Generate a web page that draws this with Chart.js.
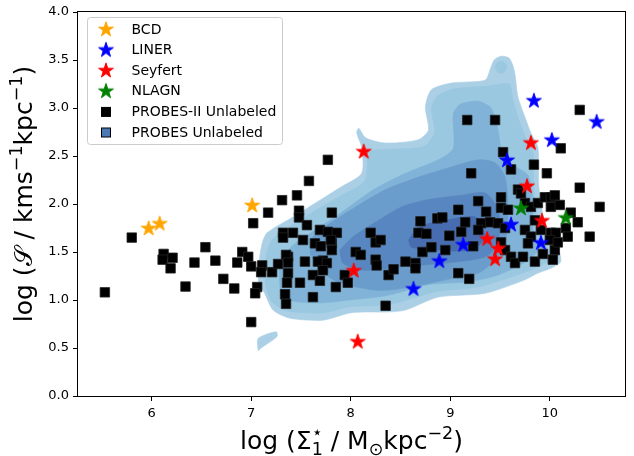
<!DOCTYPE html>
<html><head><meta charset="utf-8">
<script src="https://cdn.jsdelivr.net/npm/chart.js@4.4.1/dist/chart.umd.min.js"></script>
<style>html,body{margin:0;padding:0;background:#fff;}canvas{display:block;}</style>
</head><body>
<canvas id="c" width="634" height="456"></canvas>
<script>
// ---------- tick values ----------
const xTickValues = [6, 7, 8, 9, 10];
const yTickValues = [0, 0.5, 1, 1.5, 2, 2.5, 3, 3.5, 4];

// ---------- labelled galaxies (stars) ----------
const bcdX = [5.97, 6.08, 7.01];
const bcdY = [1.75, 1.80, 1.99];
const linerX = [9.84, 10.47, 10.02, 9.57, 9.61, 9.91, 9.13, 8.89, 8.63];
const linerY = [3.08, 2.86, 2.67, 2.46, 1.79, 1.60, 1.58, 1.41, 1.12];
const seyfertX = [8.13, 9.81, 9.77, 9.92, 9.37, 9.48, 9.45, 8.03, 8.07];
const seyfertY = [2.55, 2.64, 2.19, 1.83, 1.64, 1.54, 1.43, 1.31, 0.57];
const nlagnX = [9.71, 10.16];
const nlagnY = [1.96, 1.86];

// ---------- PROBES-II unlabeled (squares) ----------
const probes2X = [5.53,5.80,6.12,6.11,6.21,6.19,6.34,6.43,6.54,6.64,6.72,6.83,6.86,6.91,6.97,7.00,7.02,7.00,7.11,7.10,
7.17,7.21,7.27,7.31,7.32,7.32,7.37,7.37,7.36,7.34,7.35,7.06,7.04,7.42,7.46,7.48,7.48,7.49,7.52,7.54,
7.56,7.58,7.62,7.62,7.69,7.64,7.70,7.72,7.72,7.69,7.77,7.77,7.81,7.81,7.85,7.86,7.81,7.94,7.97,8.05,
8.10,8.20,8.25,8.30,8.25,8.26,8.35,8.38,8.43,8.55,8.65,8.65,8.70,8.68,8.76,8.72,8.81,8.87,8.92,8.99,
8.95,9.08,9.21,9.28,9.36,9.15,9.11,9.08,9.19,9.31,9.28,9.40,9.23,9.51,9.51,9.58,9.53,9.61,9.84,9.97,
9.48,9.55,9.51,9.55,9.61,9.65,9.73,9.85,9.93,9.68,9.71,9.75,9.81,9.88,9.95,10.01,9.85,9.91,9.75,9.81,
10.01,10.01,10.05,9.17,9.45,10.11,10.30,10.30,10.05,10.10,10.50,10.21,10.28,10.16,10.18,10.06,10.40,10.03,9.78,10.00,
10.08,7.35,7.37,7.67,7.76,7.72,7.80];
const probes2Y = [1.08,1.65,1.48,1.42,1.44,1.33,1.14,1.39,1.55,1.41,1.22,1.12,1.39,1.50,1.45,1.35,1.80,0.77,1.36,1.29,
1.91,1.29,1.375,2.04,1.70,1.65,1.45,1.28,1.18,1.06,0.96,1.135,1.07,1.70,2.09,1.93,1.86,1.18,1.625,1.40,
1.78,2.24,1.03,1.26,1.73,1.59,1.56,1.41,1.33,1.20,2.46,1.71,1.59,1.91,1.135,1.70,1.52,1.26,1.18,1.50,
1.47,1.70,1.60,1.625,1.42,1.36,0.94,1.26,1.32,1.40,1.385,1.33,1.82,1.70,1.69,1.50,1.55,1.85,1.86,1.67,
1.52,1.94,2.32,2.03,1.92,1.81,1.71,1.28,1.22,1.80,1.73,1.81,1.56,2.07,1.96,1.94,2.54,2.36,2.41,2.32,
1.80,1.75,1.60,1.52,1.45,1.385,1.45,1.40,1.48,2.15,2.11,2.01,1.97,2.01,2.07,2.07,1.83,1.73,1.73,1.66,
1.97,1.70,1.52,2.875,2.875,2.58,2.98,2.17,2.09,1.99,1.97,1.91,1.81,1.75,1.66,1.70,1.66,1.42,1.59,1.625,
1.60,1.47,1.39,1.40,1.385,1.31,1.625];

// ---------- PROBES unlabeled density (KDE contour levels, outer -> inner) ----------
const kdeL1X = [7.07,7.08,7.11,7.16,7.42,7.69,7.89,8.11,8.11,8.06,8.08,8.15,8.35,8.68,8.78,8.75,8.81,9.01,9.35,9.40,9.44,9.51,9.59,9.63,9.65,9.68,9.75,9.81,9.88,9.89,9.93,9.98,10.08,10.11,10.01,9.88,9.75,9.35,8.88,8.55,8.38,8.15,7.99,7.72,7.39,7.22,7.12];
const kdeL1Y = [1.135,1.40,1.59,1.70,1.865,2.04,2.17,2.32,2.59,2.74,2.79,2.69,2.635,2.67,2.77,3.01,3.19,3.26,3.29,3.40,3.50,3.54,3.52,3.44,3.35,3.115,2.905,2.74,2.59,2.18,1.885,1.655,1.54,1.40,1.33,1.28,1.21,1.07,1.03,0.895,0.875,0.875,0.865,0.79,0.81,0.895,1.10];
const kdeSliverX = [7.07,7.07,7.25,7.26,7.10];
const kdeSliverY = [0.47,0.60,0.67,0.62,0.50];
const kdeL2X = [7.14,7.15,7.21,7.39,7.64,7.89,8.14,8.19,8.38,8.73,8.84,8.81,8.87,9.04,9.38,9.59,9.63,9.69,9.76,9.83,9.84,9.88,9.94,10.03,9.96,9.73,9.28,8.88,8.38,7.99,7.72,7.36,7.21];
const kdeL2Y = [1.156,1.47,1.625,1.77,1.93,2.08,2.24,2.54,2.57,2.60,2.74,3.0,3.125,3.20,3.23,3.25,3.08,2.875,2.69,2.54,2.15,1.83,1.59,1.46,1.385,1.28,1.135,1.09,0.95,0.93,0.865,0.885,0.98];
const kdeKnobX = [9.57,9.55,9.51,9.47,9.45,9.47,9.51,9.55];
const kdeKnobY = [3.43,3.47,3.49,3.47,3.43,3.38,3.36,3.38];
const kdeL3X = [7.29,7.29,7.41,7.64,7.89,8.23,8.55,8.88,9.03,9.03,9.10,9.28,9.41,9.48,9.52,9.63,9.78,9.83,9.83,9.88,9.76,9.48,9.18,8.78,8.38,7.99,7.69,7.41];
const kdeL3Y = [1.08,1.40,1.56,1.73,1.90,2.15,2.32,2.46,2.58,2.94,3.04,3.07,3.0,2.77,2.54,2.41,2.30,2.04,1.75,1.52,1.40,1.26,1.19,1.16,1.05,1.0,0.97,0.99];
const kdeL4X = [7.59,7.62,7.79,8.05,8.35,8.68,9.01,9.28,9.45,9.55,9.58,9.55,9.45,9.28,8.95,8.61,8.28,7.89,7.69];
const kdeL4Y = [1.49,1.656,1.80,1.97,2.15,2.28,2.385,2.46,2.43,2.28,1.94,1.59,1.42,1.28,1.21,1.135,1.10,1.18,1.31];
const kdeL5X = [7.89,8.02,8.28,8.51,8.75,9.11,9.35,9.48,9.48,9.35,8.95,8.48,8.11,7.92];
const kdeL5Y = [1.52,1.656,1.83,1.97,2.04,2.09,2.115,1.94,1.59,1.45,1.385,1.344,1.31,1.385];
const kdeL6X = [8.58,8.68,8.95,9.25,9.35,9.21,8.88,8.61];
const kdeL6Y = [1.625,1.76,1.83,1.865,1.656,1.52,1.52,1.55];

// ---------- styles ----------
const kdeColors = ['#abd0e6', '#9ac8e0', '#80b3d7', '#6a9dcb', '#5886c0', '#476cb0'];
const FONT = '"DejaVu Sans", Verdana, sans-serif';

function pts(xs, ys) { return xs.map((x, i) => ({ x: x, y: ys[i] })); }
function loop(xs, ys) { const p = pts(xs, ys); p.push({ x: xs[0], y: ys[0] }); return p; }

function makeStar(color, R) {
  const c = document.createElement('canvas');
  c.width = 20; c.height = 20;
  const g = c.getContext('2d');
  g.beginPath();
  for (let k = 0; k < 10; k++) {
    const a = -Math.PI / 2 + k * Math.PI / 5;
    const r = (k % 2 === 0) ? R : R * 0.381966;
    const px = 10 + r * Math.cos(a), py = 10.6 + r * Math.sin(a);
    if (k === 0) g.moveTo(px, py); else g.lineTo(px, py);
  }
  g.closePath();
  g.fillStyle = color; g.fill();
  g.lineWidth = 1; g.strokeStyle = color; g.stroke();
  return c;
}
const starImgs = {
  BCD: makeStar('#ffa500', 7.8),
  LINER: makeStar('#0000ff', 7.8),
  Seyfert: makeStar('#ff0000', 7.8),
  NLAGN: makeStar('#008000', 7.8)
};

function kdeSet(xs, ys, color, order) {
  return {
    label: '_kde', data: loop(xs, ys), showLine: true, fill: 'shape',
    backgroundColor: color, borderColor: color, borderWidth: 0.6,
    pointRadius: 0, tension: 0.25, order: order
  };
}
function starSet(label, xs, ys, order) {
  return { label: label, data: pts(xs, ys), pointStyle: starImgs[label], pointRadius: 8, order: order };
}

const datasets = [
  kdeSet(kdeL1X, kdeL1Y, kdeColors[0], 30),
  kdeSet(kdeSliverX, kdeSliverY, kdeColors[0], 30),
  kdeSet(kdeL2X, kdeL2Y, kdeColors[1], 29),
  kdeSet(kdeKnobX, kdeKnobY, kdeColors[1], 29),
  kdeSet(kdeL3X, kdeL3Y, kdeColors[2], 28),
  kdeSet(kdeL4X, kdeL4Y, kdeColors[3], 27),
  kdeSet(kdeL5X, kdeL5Y, kdeColors[4], 26),
  kdeSet(kdeL6X, kdeL6Y, kdeColors[5], 25),
  { label: 'PROBES-II Unlabeled', data: pts(probes2X, probes2Y), pointStyle: 'rect', pointRadius: 6.7,
    backgroundColor: '#000', borderColor: '#222', borderWidth: 0.8, order: 10 },
  starSet('BCD', bcdX, bcdY, 4),
  starSet('LINER', linerX, linerY, 3),
  starSet('Seyfert', seyfertX, seyfertY, 2),
  starSet('NLAGN', nlagnX, nlagnY, 1)
];

// ---------- text helpers ----------
function runsWidth(ctx, runs, S) {
  let w = 0;
  for (const r of runs) {
    const sz = r.k === 'n' ? S : S * 0.7;
    ctx.font = (r.italic ? 'italic ' : '') + sz + 'px ' + (r.fam || FONT);
    let rw = ctx.measureText(r.t).width;
    if (r.stack) { ctx.font = sz + 'px ' + FONT; rw = Math.max(rw, ctx.measureText(r.stack).width); }
    w += rw;
  }
  return w;
}
function drawRuns(ctx, runs, x, y, S) {
  ctx.textBaseline = 'alphabetic'; ctx.textAlign = 'left'; ctx.fillStyle = '#000';
  for (const r of runs) {
    const sz = r.k === 'n' ? S : S * 0.7;
    const dy = r.k === 'sub' ? S * 0.24 : (r.k === 'sup' ? -S * 0.42 : 0);
    ctx.font = (r.italic ? 'italic ' : '') + sz + 'px ' + (r.fam || FONT);
    let rw = ctx.measureText(r.t).width;
    ctx.fillText(r.t, x, y + dy);
    if (r.stack) {
      ctx.font = sz + 'px ' + FONT;
      ctx.fillText(r.stack, x, y - S * 0.45);
      rw = Math.max(rw, ctx.measureText(r.stack).width);
    }
    x += rw;
  }
}
const xTitleRuns = [
  { t: 'log (', k: 'n' }, { t: 'Σ', k: 'n' }, { t: '1', k: 'sub', stack: '⋆' },
  { t: ' / M', k: 'n' }, { t: '⊙', k: 'sub' }, { t: 'kpc', k: 'n' }, { t: '−2', k: 'sup' }, { t: ')', k: 'n' }
];
const yTitleRuns = [
  { t: 'log (', k: 'n' }, { t: '𝒮', k: 'n' }, { t: ' / kms', k: 'n' }, { t: '−1', k: 'sup' },
  { t: 'kpc', k: 'n' }, { t: '−1', k: 'sup' }, { t: ')', k: 'n' }
];
const legendItems = ['BCD', 'LINER', 'Seyfert', 'NLAGN', 'PROBES-II Unlabeled', 'PROBES Unlabeled'];

const decor = {
  id: 'decor',
  afterDraw(chart) {
    const ctx = chart.ctx, a = chart.chartArea;
    ctx.save();
    // frame (spines)
    ctx.strokeStyle = '#000'; ctx.lineWidth = 1;
    ctx.strokeRect(a.left - 0.5, a.top - 0.5, a.right - a.left + 1, a.bottom - a.top + 1);
    // axis titles
    const S = 25;
    const xw = runsWidth(ctx, xTitleRuns, S);
    drawRuns(ctx, xTitleRuns, (a.left + a.right) / 2 - xw / 2, 449, S);
    const yw = runsWidth(ctx, yTitleRuns, S);
    ctx.save();
    ctx.translate(32, 194);
    ctx.rotate(-Math.PI / 2);
    drawRuns(ctx, yTitleRuns, -yw / 2, 0, S);
    ctx.restore();
    // legend
    const lx = 87.5, ly = 17.5, lw = 195, lh = 127;
    ctx.beginPath();
    ctx.roundRect(lx, ly, lw, lh, 3);
    ctx.fillStyle = 'rgba(255,255,255,0.8)'; ctx.fill();
    ctx.strokeStyle = '#cccccc'; ctx.lineWidth = 1; ctx.stroke();
    ctx.font = '14px ' + FONT; ctx.textBaseline = 'middle'; ctx.textAlign = 'left';
    legendItems.forEach((name, i) => {
      const cy = 29.5 + i * 20.6, cx = 106;
      if (starImgs[name]) {
        ctx.drawImage(starImgs[name], cx - 10, cy - 10.6);
      } else {
        ctx.fillStyle = name === 'PROBES Unlabeled' ? '#4a79b5' : '#000';
        ctx.fillRect(cx - 4.5, cy - 4.5, 9, 9);
        ctx.strokeStyle = '#000'; ctx.lineWidth = 1;
        ctx.strokeRect(cx - 4.5, cy - 4.5, 9, 9);
      }
      ctx.fillStyle = '#000';
      ctx.fillText(name, 131.5, cy + 0.5);
    });
    ctx.restore();
  }
};

const tickFont = { family: FONT, size: 13 };
new Chart(document.getElementById('c'), {
  type: 'scatter',
  data: { datasets: datasets },
  options: {
    responsive: false, animation: false, events: [],
    layout: { padding: { top: 12, right: 6, left: 0, bottom: 0 } },
    plugins: { legend: { display: false }, tooltip: { enabled: false } },
    scales: {
      x: {
        type: 'linear', min: 5.26, max: 10.755,
        afterBuildTicks: s => { s.ticks = xTickValues.map(v => ({ value: v })); },
        afterFit: s => { s.height = 60; },
        ticks: { font: tickFont, color: '#000', padding: 5, maxRotation: 0, callback: v => String(v) },
        grid: { display: true, drawOnChartArea: false, drawTicks: true, tickLength: 5, color: '#000', lineWidth: 1 },
        border: { display: false }
      },
      y: {
        type: 'linear', min: 0, max: 4,
        afterBuildTicks: s => { s.ticks = yTickValues.map(v => ({ value: v })); },
        afterFit: s => { s.width = 78; },
        ticks: { font: tickFont, color: '#000', padding: 4, callback: v => Number(v).toFixed(1) },
        grid: { display: true, drawOnChartArea: false, drawTicks: true, tickLength: 5, color: '#000', lineWidth: 1 },
        border: { display: false }
      }
    }
  },
  plugins: [decor]
});
</script>
</body></html>
